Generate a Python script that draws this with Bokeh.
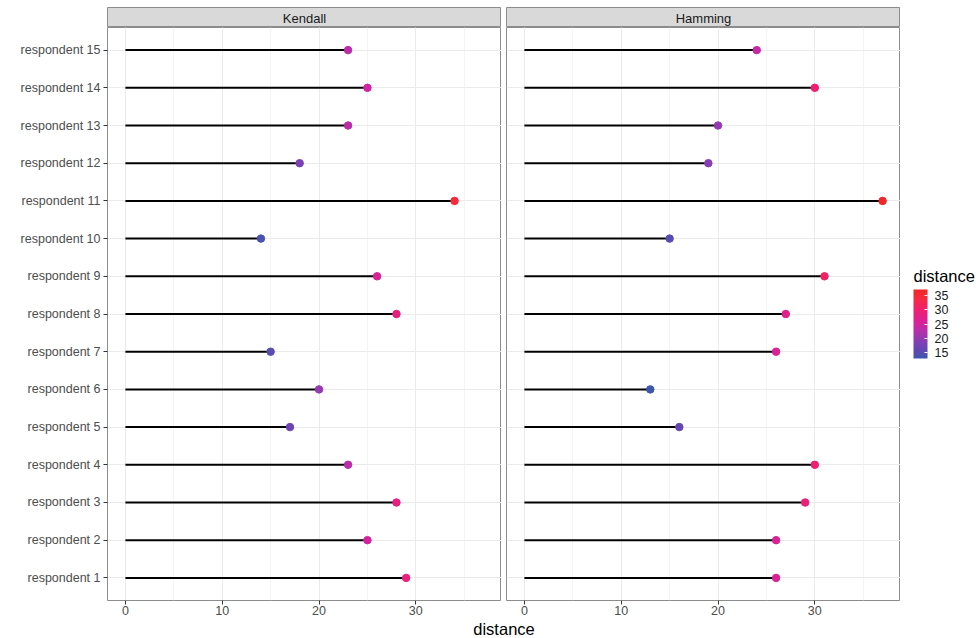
import numpy as np
from bokeh.plotting import figure
from bokeh.layouts import column, row
from bokeh.models import (ColumnDataSource, Range1d, FixedTicker, SingleIntervalTicker,
                          LinearColorMapper, ColorBar)
from bokeh.transform import transform
from bokeh.core.properties import value
from bokeh.embed import file_html
from bokeh.resources import INLINE

# ---------------- data ----------------
respondents = ["respondent 1", "respondent 2", "respondent 3", "respondent 4", "respondent 5",
               "respondent 6", "respondent 7", "respondent 8", "respondent 9", "respondent 10",
               "respondent 11", "respondent 12", "respondent 13", "respondent 14", "respondent 15"]
kendall = [29, 25, 28, 23, 17, 20, 15, 28, 26, 14, 34, 18, 23, 25, 23]
hamming = [26, 26, 29, 30, 16, 13, 26, 27, 31, 15, 37, 19, 20, 30, 24]
panel_names = ["Kendall", "Hamming"]
legend_ticks = [15, 20, 25, 30, 35]
x_axis_title = "distance"
legend_title = "distance"

# ---------------- style ----------------
FONT = "Liberation Sans"
BORDER = "#8C8C8C"
GRID = "#EBEBEB"
MINOR_GRID = "#F4F4F4"
STRIP_FILL = "#D9D9D9"

stop_vals = [13, 16, 18, 20, 23, 25, 28, 30, 34, 37]
stop_cols = ["#3E56AD", "#6447B3", "#7A41B5", "#953BB2", "#BB2DA8", "#D3239E",
             "#E61F82", "#EF2070", "#F52A3E", "#F02628"]


def h2r(h):
    return [int(h[i:i + 2], 16) for i in (1, 3, 5)]


all_vals = kendall + hamming
lo_v, hi_v = min(all_vals), max(all_vals)
gx = np.linspace(lo_v, hi_v, 256)
rgb = np.array([h2r(c) for c in stop_cols], dtype=float)
chan = [np.interp(gx, stop_vals, rgb[:, k]) for k in range(3)]
palette = ["#%02x%02x%02x" % (int(round(r)), int(round(g)), int(round(b)))
           for r, g, b in zip(*chan)]
mapper = LinearColorMapper(palette=palette, low=lo_v, high=hi_v)

n = len(respondents)
ys = list(range(1, n + 1))
x_lo, x_hi = -0.05 * hi_v, hi_v * 1.05

TOP_PAD = 7
STRIP_H = 20
FRAME_H = 573
AXIS_B = 20
PANEL_H = FRAME_H + AXIS_B
XLAB_H = 636 - TOP_PAD - STRIP_H - PANEL_H
LEFT_W, LEFT_B = 501, 107
RIGHT_W, RIGHT_B = 399, 5
LEG_W = 78
TICK_FS = "12.5px"


def make_panel(vals, show_y, width, left):
    src = ColumnDataSource(dict(y=ys, x0=[0] * n, x=vals, label=respondents))
    p = figure(width=width, height=PANEL_H, x_range=Range1d(x_lo, x_hi),
               y_range=Range1d(0.4, n + 0.6), output_backend="svg", toolbar_location=None,
               min_border_left=left, min_border_right=0, min_border_top=0,
               min_border_bottom=AXIS_B,
               y_axis_location="left" if show_y else None, title=None)
    p.segment(x0="x0", y0="y", x1="x", y1="y", source=src, line_color="black", line_width=2)
    p.scatter(x="x", y="y", source=src, size=7.5, fill_color=transform("x", mapper),
              line_color=transform("x", mapper))
    p.outline_line_color = BORDER
    p.outline_line_width = 1
    p.background_fill_color = "white"
    p.xaxis.ticker = SingleIntervalTicker(interval=10, num_minor_ticks=2)
    p.xaxis.axis_line_color = None
    p.xaxis.major_tick_line_color = "#333333"
    p.xaxis.major_tick_in = 0
    p.xaxis.major_tick_out = 4
    p.xaxis.minor_tick_line_color = None
    p.xaxis.major_label_text_font = FONT
    p.xaxis.major_label_text_font_size = TICK_FS
    p.xaxis.major_label_text_color = "#4D4D4D"
    p.xaxis.major_label_standoff = 1
    p.xgrid.grid_line_color = GRID
    p.xgrid.minor_grid_line_color = MINOR_GRID
    p.ygrid.ticker = FixedTicker(ticks=ys)
    p.ygrid.grid_line_color = GRID
    if show_y:
        p.yaxis.ticker = FixedTicker(ticks=ys)
        p.yaxis.major_label_overrides = {y: lab for y, lab in zip(ys, respondents)}
        p.yaxis.axis_line_color = None
        p.yaxis.major_tick_line_color = "#333333"
        p.yaxis.major_tick_in = 0
        p.yaxis.major_tick_out = 4
        p.yaxis.minor_tick_line_color = None
        p.yaxis.major_label_text_font = FONT
        p.yaxis.major_label_text_font_size = TICK_FS
        p.yaxis.major_label_text_color = "#4D4D4D"
        p.yaxis.major_label_standoff = 3
    return p


def make_strip(name, width, left):
    s = figure(width=width, height=TOP_PAD + STRIP_H, x_range=Range1d(0, 1),
               y_range=Range1d(0, 1), min_border_left=left, min_border_right=0,
               min_border_top=TOP_PAD, min_border_bottom=0,
               x_axis_location=None, y_axis_location=None, toolbar_location=None,
               output_backend="svg", title=None)
    s.background_fill_color = STRIP_FILL
    s.outline_line_color = BORDER
    s.grid.visible = False
    s.text(x=[0.5], y=[0.45], text=[name], text_align="center", text_baseline="middle",
           text_font=value(FONT), text_font_size="13px", text_color="#1A1A1A")
    return s


left_panel = make_panel(kendall, True, LEFT_W, LEFT_B)
right_panel = make_panel(hamming, False, RIGHT_W, RIGHT_B)
left_strip = make_strip(panel_names[0], LEFT_W, LEFT_B)
right_strip = make_strip(panel_names[1], RIGHT_W, RIGHT_B)

# legend (frame aligned with the panel frames; y range in pixels from frame bottom)
lg = figure(width=LEG_W, height=PANEL_H, x_range=Range1d(0, LEG_W), y_range=Range1d(0, FRAME_H),
            min_border=0, min_border_bottom=AXIS_B, x_axis_location=None, y_axis_location=None,
            toolbar_location=None, output_backend="svg", title=None)
lg.outline_line_color = None
lg.grid.visible = False
lg.text(x=[13], y=[FRAME_H - 248], text=[legend_title], text_align="left",
        text_baseline="middle", text_font=value(FONT), text_font_size="16.5px",
        text_color="black")
cb = ColorBar(color_mapper=mapper, ticker=FixedTicker(ticks=legend_ticks), orientation="vertical",
              width=14, height=69, location=(13, 242), padding=0,
              major_label_text_font=FONT, major_label_text_font_size="12.5px",
              major_label_text_color="#1A1A1A", label_standoff=7,
              major_tick_line_color="white", major_tick_in=3, major_tick_out=0,
              minor_tick_line_color=None, bar_line_color=None, border_line_color=None,
              background_fill_color=None)
lg.add_layout(cb, "center")

# shared x-axis title
xl = figure(width=LEFT_W + RIGHT_W, height=XLAB_H, x_range=Range1d(0, 1),
            y_range=Range1d(0, XLAB_H),
            min_border_left=LEFT_B, min_border_right=0, min_border_top=0, min_border_bottom=0,
            x_axis_location=None, y_axis_location=None, toolbar_location=None,
            output_backend="svg", title=None)
xl.outline_line_color = None
xl.grid.visible = False
xl.text(x=[0.5], y=[XLAB_H / 2], text=[x_axis_title], text_align="center",
        text_baseline="middle", text_font=value(FONT), text_font_size="16.5px",
        text_color="black")

layout = column(row(left_strip, right_strip), row(left_panel, right_panel, lg), xl)

open("out.html", "w").write(file_html(layout, INLINE))
